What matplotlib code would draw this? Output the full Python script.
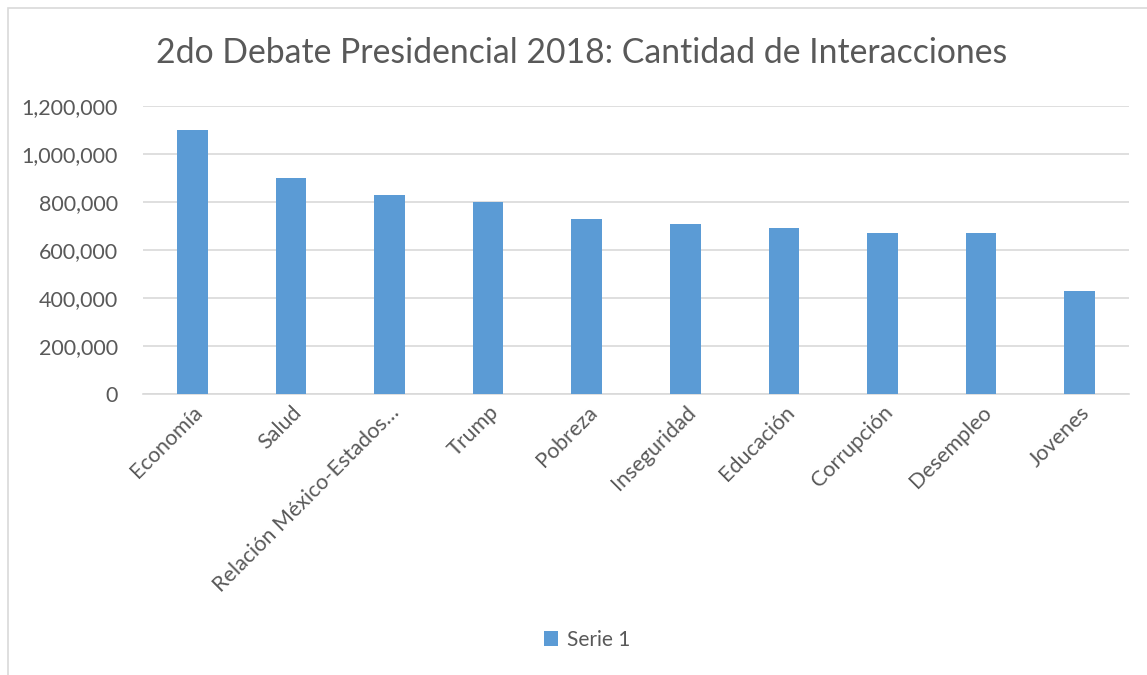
import matplotlib.pyplot as plt
from matplotlib.patches import Rectangle
from matplotlib.ticker import FuncFormatter

categories = ['Economía', 'Salud', 'Relación México-Estados…', 'Trump', 'Pobreza',
              'Inseguridad', 'Educación', 'Corrupción', 'Desempleo', 'Jovenes']
values = [1100000, 900000, 830000, 800000, 730000, 710000, 690000, 670000, 670000, 430000]
yticks = [0, 200000, 400000, 600000, 800000, 1000000, 1200000]

plt.rcParams['font.family'] = ['Lato', 'DejaVu Sans']
txt = '#595959'
grid = '#D9D9D9'

fig = plt.figure(figsize=(11.47, 6.75), dpi=100)
ax = fig.add_axes([143/1147, 1-394/675, (1129-143)/1147, (394-106)/675])

x = range(len(categories))
ax.bar(x, values, width=0.31, color='#5B9BD5', label='Serie 1', zorder=3)

ax.set_xlim(-0.5, len(categories)-0.5)
ax.set_ylim(0, 1200000)
ax.set_yticks(yticks)
ax.yaxis.set_major_formatter(FuncFormatter(lambda v, p: '{:,.0f}'.format(v)))
ax.grid(axis='y', color=grid, linewidth=1.2, zorder=0)
for s in ['top', 'right', 'left']:
    ax.spines[s].set_visible(False)
ax.spines['bottom'].set_color(grid)
ax.spines['bottom'].set_linewidth(1.2)
ax.tick_params(axis='both', length=0, colors=txt, labelsize=15.5)
ax.tick_params(axis='y', pad=18)
ax.tick_params(axis='x', pad=6)
ax.set_xticks(list(x))
ax.set_xticklabels(categories, rotation=45, ha='right', rotation_mode='anchor')

fig.text(582/1147, 1-53/675, '2do Debate Presidencial 2018: Cantidad de Interacciones',
         ha='center', va='center', fontsize=24.3, color=txt)

leg = fig.legend(loc='center', bbox_to_anchor=(587/1147, 1-640/675), frameon=False,
                 fontsize=15, handlelength=0.7, handleheight=0.7, handletextpad=0.4)
for t in leg.get_texts():
    t.set_color(txt)

fig.patches.append(Rectangle((8/1147, -0.01), 1.02, 1-8/675+0.01, transform=fig.transFigure,
                             fill=False, edgecolor=grid, linewidth=1.2))

fig.savefig('out.png', dpi=100)
